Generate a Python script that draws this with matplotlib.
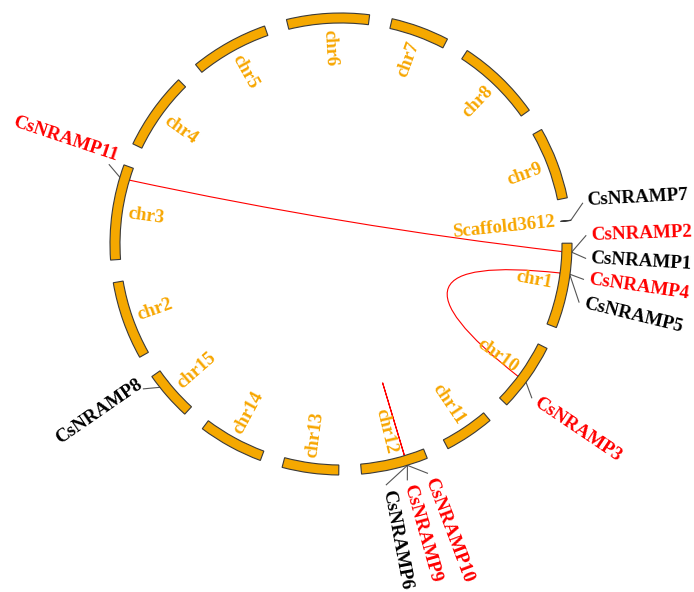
import numpy as np
import matplotlib
matplotlib.use("Agg")
import matplotlib.pyplot as plt
from matplotlib.patches import Wedge, PathPatch
from matplotlib.path import Path

# ---- data -------------------------------------------------------------
chrom_names = ["chr1", "chr10", "chr11", "chr12", "chr13", "chr14", "chr15",
               "chr2", "chr3", "chr4", "chr5", "chr6", "chr7", "chr8", "chr9",
               "Scaffold3612"]
chrom_len_mb = [238, 192, 140, 187, 158, 183, 138,
                219, 267, 218, 219, 231, 163, 239, 202,
                0.3]

gene_names = ["CsNRAMP1", "CsNRAMP2", "CsNRAMP3", "CsNRAMP4", "CsNRAMP5",
              "CsNRAMP6", "CsNRAMP7", "CsNRAMP8", "CsNRAMP9", "CsNRAMP10",
              "CsNRAMP11"]
gene_chrom = ["chr1", "chr1", "chr10", "chr1", "chr1",
              "chr12", "Scaffold3612", "chr15", "chr12", "chr12",
              "chr3"]
gene_pos_mb = [25.0, 24.0, 110.0, 86.0, 88.0,
               57.5, 0.15, 101.0, 58.0, 58.5,
               231.0]

# segmental / tandem duplicated pairs
dup_pairs = [("CsNRAMP11", "CsNRAMP2"),
             ("CsNRAMP4", "CsNRAMP3"),
             ("CsNRAMP9", "CsNRAMP10")]

# ---- layout -----------------------------------------------------------
W, H = 694, 592
cx, cy = 341.0, H - 244.0
r_in, r_out = 221.0, 231.0
r_chr_label = 215.0
r_lead = 245.0
r_text_right = 250.0
r_text_left = 244.0
bezier_r = 18.0
start_deg = 0.2
gap_deg = 5.66
label_size = 13.7
# angular nudges (degrees) of the leader ends, keeping neighbouring labels apart
label_shift = {"CsNRAMP7": 3.7, "CsNRAMP2": 3.9, "CsNRAMP1": -1.3,
               "CsNRAMP4": -0.75, "CsNRAMP5": -6.0, "CsNRAMP3": -2.1,
               "CsNRAMP10": 4.0, "CsNRAMP9": -1.0, "CsNRAMP6": -6.1,
               "CsNRAMP11": -2.1, "CsNRAMP8": -2.1}
# extra placement of a few label texts relative to their leader end
text_nudge = {"CsNRAMP7": 0.4, "CsNRAMP11": -2.5, "CsNRAMP8": -1.6}
text_radius = {"CsNRAMP11": 240.0}
text_rotation = {"CsNRAMP7": 3.0, "CsNRAMP11": -18.5, "CsNRAMP3": -34.0}

band_color = "#F5A800"
text_orange = "#F7A600"
edge_color = "#3a3a3a"
font = ["Liberation Serif", "DejaVu Serif"]

deg_per_mb = (360.0 - gap_deg * len(chrom_names)) / sum(chrom_len_mb)

chrom_start = {}
a = start_deg
for name, ln in zip(chrom_names, chrom_len_mb):
    chrom_start[name] = a
    a -= ln * deg_per_mb + gap_deg


def pt(r, deg):
    t = np.deg2rad(deg)
    return cx + r * np.cos(t), cy + r * np.sin(t)


def right_side(deg):
    d = ((deg + 180) % 360) - 180
    return -90 <= d <= 90, d


def radial_text(ax, r, deg, s, color, outward, size, rot=None):
    right, d = right_side(deg)
    if right:
        auto_rot, ha = d, ("left" if outward else "right")
    else:
        auto_rot = d - 180 if d > 0 else d + 180
        ha = "right" if outward else "left"
    x, y = pt(r, deg)
    ax.text(x, y, s, rotation=auto_rot if rot is None else rot,
            rotation_mode="anchor", ha=ha, va="center",
            color=color, fontsize=size, fontweight="bold", family=font)


fig = plt.figure(figsize=(W / 100, H / 100), dpi=100)
ax = fig.add_axes([0, 0, 1, 1])
ax.set_xlim(0, W)
ax.set_ylim(0, H)
ax.set_aspect("equal")
ax.axis("off")

# chromosome bands and their names
for name, ln in zip(chrom_names, chrom_len_mb):
    s = chrom_start[name]
    e = s - ln * deg_per_mb
    ax.add_patch(Wedge((cx, cy), r_out, e, s, width=r_out - r_in,
                       facecolor=band_color, edgecolor=edge_color,
                       linewidth=0.8, zorder=3))
    radial_text(ax, r_chr_label, (s + e) / 2, name, text_orange, False, 13.5)

gene_angle = {g: chrom_start[c] - p * deg_per_mb
              for g, c, p in zip(gene_names, gene_chrom, gene_pos_mb)}
linked = {g for pair in dup_pairs for g in pair}

# gene labels with leader lines
for g in gene_names:
    ga = gene_angle[g]
    la = ga + label_shift.get(g, 0.0)
    p0, p1, p2 = pt(r_in, ga), pt(r_out, ga), pt(r_lead, la)
    ax.plot([p0[0], p1[0], p2[0]], [p0[1], p1[1], p2[1]],
            color="#555555", lw=0.8, zorder=2)
    col = "#FF0000" if g in linked else "black"
    ta = la + text_nudge.get(g, 0.0)
    default_r = r_text_right if right_side(ta)[0] else r_text_left
    radial_text(ax, text_radius.get(g, default_r), ta, g, col, True,
                label_size, rot=text_rotation.get(g))

# duplication links: quadratic Bezier curves pulled towards the centre
for g1, g2 in dup_pairs:
    a1, a2 = gene_angle[g1], gene_angle[g2]
    diff = ((a2 - a1 + 180) % 360) - 180
    mid = a1 + diff / 2
    p0, p1 = pt(r_in, a1), pt(r_in, a2)
    path = Path([p0, pt(bezier_r, mid), p1],
                [Path.MOVETO, Path.CURVE3, Path.CURVE3])
    ax.add_patch(PathPatch(path, facecolor="none", edgecolor="#FF0000",
                           lw=0.8, zorder=2))

fig.savefig("out.png", dpi=100, facecolor="white")
